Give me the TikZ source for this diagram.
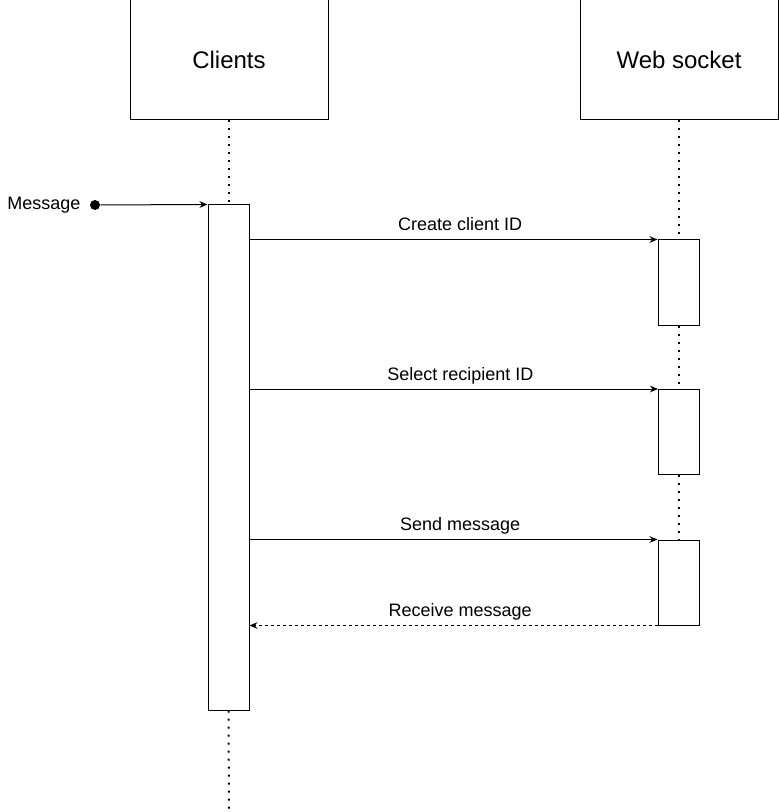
\documentclass[tikz,border=0pt]{standalone}
\usepackage{fontspec}
\setmainfont{Liberation Sans}
\usetikzlibrary{arrows.meta, positioning, calc}

\begin{document}
\begin{tikzpicture}[
    x=0.75pt, y=-0.75pt,
    actor/.style={rectangle, draw, line width=0.75pt, minimum width=148.5pt, minimum height=90pt, font=\fontsize{18}{22}\selectfont},
    activation/.style={rectangle, draw, fill=white, line width=0.75pt, minimum width=30.75pt, minimum height=63.75pt},
    lifeline/.style={draw, line width=1.5pt, dash pattern=on 1.5pt off 4.5pt},
    arrow/.style={draw, line width=0.75pt, -{Stealth[length=6pt, width=5pt]}},
    reply/.style={arrow, dash pattern=on 2.25pt off 2.25pt},
    msg/.style={font=\fontsize{13.5}{16}\selectfont, inner sep=0pt}
]

\useasboundingbox (0,0) rectangle (779,812);

\node[actor] (clients) at (229,60) {Clients};
\node[actor] (socket) at (679,60) {Web socket};

\node[activation, minimum height=378.75pt] (clientbar) at (228.5,457.5) {};
\node[activation] (socketbar1) at (678.5,282.5) {};
\node[activation] (socketbar2) at (679,432) {};
\node[activation] (socketbar3) at (678.5,582.5) {};

\node[circle, fill, inner sep=0pt, minimum size=7.5pt] (start) at (95,205) {};
\node[msg, left=6.75pt of start] (startlabel) {Message};
\coordinate (clientend) at (229,812);

\draw[lifeline] (clients.south) -- (clients.south |- clientbar.north);
\draw[lifeline] (clientbar.south) -- (clientend);
\draw[lifeline] (socket.south) -- (socket.south |- socketbar1.north);
\draw[lifeline] (socketbar1.south) -- (socketbar1.south |- socketbar2.north);
\draw[lifeline] (socketbar2.south) -- (socketbar2.south |- socketbar3.north);

\draw[arrow] (start) -- (clientbar.north west);
\draw[arrow] (clientbar.east |- socketbar1.north west) -- node[msg, pos=0.516, anchor=base, yshift=6.75pt] {Create client ID} (socketbar1.north west);
\draw[arrow] (clientbar.east |- socketbar2.north west) -- node[msg, pos=0.516, anchor=base, yshift=6.75pt] {Select recipient ID} (socketbar2.north west);
\draw[arrow] (clientbar.east |- socketbar3.north west) -- node[msg, pos=0.516, anchor=base, yshift=6.75pt] {Send message} (socketbar3.north west);
\draw[reply] (socketbar3.south west) -- node[msg, pos=0.484, anchor=base, yshift=6.75pt] {Receive message} (clientbar.east |- socketbar3.south west);

\end{tikzpicture}
\end{document}
